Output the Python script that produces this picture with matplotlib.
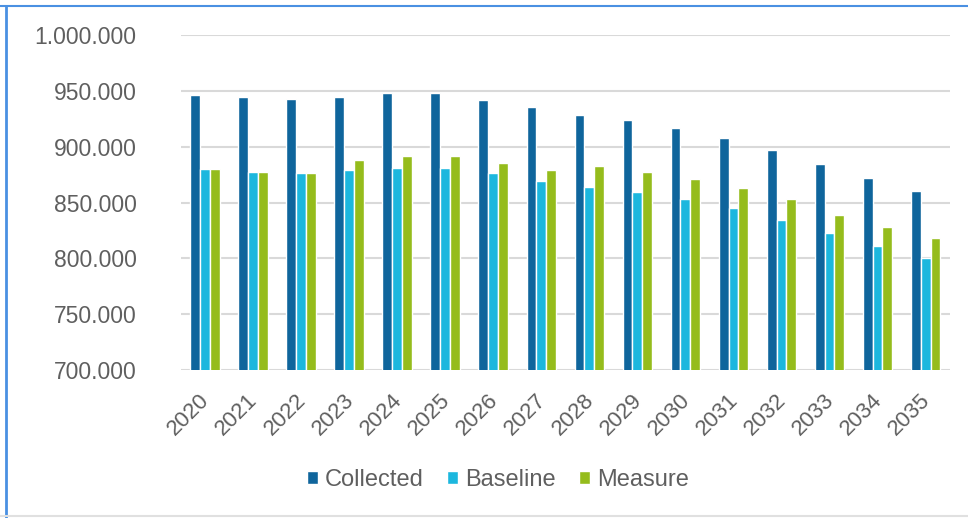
import numpy as np
import matplotlib.pyplot as plt
from matplotlib.ticker import FuncFormatter
from matplotlib.lines import Line2D
from matplotlib.transforms import ScaledTranslation

plt.rcParams['font.family'] = ['Liberation Sans', 'DejaVu Sans']

years = [str(y) for y in range(2020, 2036)]
collected = [946500, 944400, 943100, 944400, 948000, 948000, 942200, 935100,
             928300, 923800, 916700, 907800, 897300, 884600, 872100, 860700]
baseline = [879700, 877700, 876800, 878800, 881200, 881200, 876800, 869600,
            864000, 859600, 852800, 844700, 834300, 823000, 811100, 800600]
measure = [879700, 877700, 876800, 888100, 891700, 891700, 885400, 878800,
           882400, 877700, 870800, 862800, 852800, 839000, 827700, 817800]

series = ['Collected', 'Baseline', 'Measure']
colors = ['#0f659c', '#1cb7de', '#95bc1c']
text_color = '#5f5f5f'

fig = plt.figure(figsize=(9.68, 5.18), dpi=100)
ax = fig.add_axes([0.187, 0.2857, 0.794, 0.6467])

x = np.arange(len(years))
w = 0.205
for i, (vals, c, name) in enumerate(zip([collected, baseline, measure], colors, series)):
    ax.bar(x + (i - 1) * w, vals, width=w, color=c, edgecolor='white',
           linewidth=1.0, label=name, zorder=3)

ax.set_xlim(-0.5, len(years) - 0.5)
ax.set_ylim(700000, 1000000)
ax.set_yticks(np.arange(700000, 1000001, 50000))
ax.yaxis.set_major_formatter(FuncFormatter(lambda v, p: f"{int(v):,}".replace(',', '.')))
ax.grid(axis='y', color='#d9d9d9', linewidth=1.5, zorder=0)
for s in ax.spines.values():
    s.set_visible(False)
ax.tick_params(axis='both', length=0, colors=text_color)
ax.tick_params(axis='y', labelsize=16.5, pad=32)
ax.set_xticks(x)
ax.set_xticklabels(years, rotation=45, ha='right', rotation_mode='anchor', fontsize=16)
ax.tick_params(axis='x', pad=14)
shift = ScaledTranslation(-6 / 100, 0, fig.dpi_scale_trans)
for lab in ax.get_xticklabels():
    lab.set_transform(lab.get_transform() + shift)

leg = fig.legend(loc='center', bbox_to_anchor=(498 / 968, 1 - 480 / 518), ncol=3,
                 frameon=False, fontsize=17, handlelength=0.45, handleheight=0.45,
                 handletextpad=0.3, columnspacing=1.0)
for t in leg.get_texts():
    t.set_color(text_color)

# screenshot frame
fig.add_artist(Line2D([0, 1], [1 - 6 / 518] * 2, color='#4a90e2', linewidth=1.5, transform=fig.transFigure))
fig.add_artist(Line2D([6 / 968] * 2, [0, 1 - 6 / 518], color='#4a90e2', linewidth=2, transform=fig.transFigure))
fig.add_artist(Line2D([0, 1], [2 / 518] * 2, color='#e0e0e0', linewidth=1.5, transform=fig.transFigure))

fig.savefig('out.png', dpi=100)
